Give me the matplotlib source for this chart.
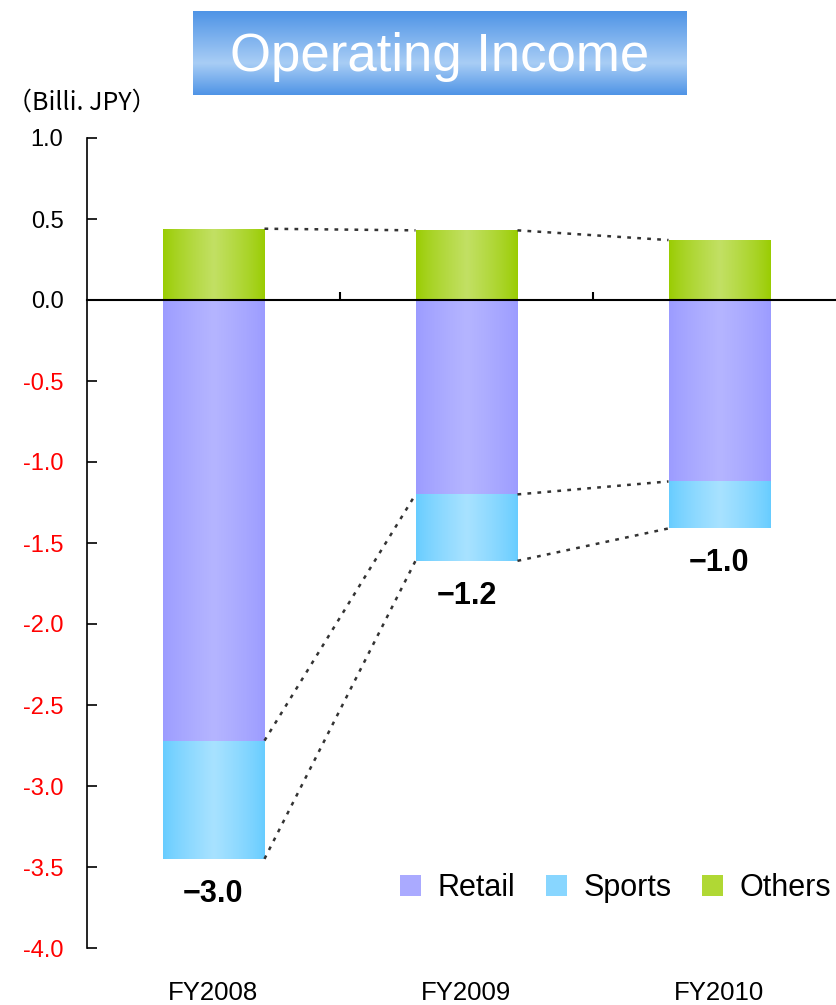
import numpy as np
import matplotlib
matplotlib.use("Agg")
import matplotlib.pyplot as plt
from matplotlib.colors import LinearSegmentedColormap
from matplotlib.transforms import blended_transform_factory

# data (Billi. JPY)
years = ["FY2008", "FY2009", "FY2010"]
retail = [-2.72, -1.20, -1.12]
sports = [-0.73, -0.41, -0.29]
others = [0.44, 0.43, 0.37]
series = ["Retail", "Sports", "Others"]
yticks = [1.0, 0.5, 0.0, -0.5, -1.0, -1.5, -2.0, -2.5, -3.0, -3.5, -4.0]

# gradient colours: edge, centre
grad = {
    "Retail": ("#9b9bff", "#b5b5ff"),
    "Sports": ("#66ccff", "#a8e2ff"),
    "Others": ("#99cc00", "#c2e064"),
}
solid = {"Retail": "#aaaaff", "Sports": "#88d6ff", "Others": "#b0d834"}

tf = "Liberation Sans"

fig = plt.figure(figsize=(8.37, 10.05), dpi=100)
ax = fig.add_axes([87 / 837, 57 / 1005, 759 / 837, 810 / 1005])
x = np.arange(len(years))
w = 0.403

retail_arr = np.array(retail)
sports_arr = np.array(sports)
others_arr = np.array(others)

b_ret = ax.bar(x, retail_arr, w, color=solid["Retail"], label="Retail", zorder=2)
b_sp = ax.bar(x, sports_arr, w, bottom=retail_arr, color=solid["Sports"], label="Sports", zorder=2)
b_ot = ax.bar(x, others_arr, w, color=solid["Others"], label="Others", zorder=2)

# horizontal gradient fill inside each bar
hx = np.linspace(0, 1, 256)
prof = np.clip(1 - np.abs(hx - 0.5) / 0.5, 0, 1) ** 0.8
for name, bars in (("Retail", b_ret), ("Sports", b_sp), ("Others", b_ot)):
    cmap = LinearSegmentedColormap.from_list(name, grad[name])
    for p in bars:
        x0, y0 = p.get_x(), p.get_y()
        im = ax.imshow(prof[None, :], cmap=cmap, vmin=0, vmax=1, aspect="auto",
                       extent=[x0, x0 + p.get_width(), y0, y0 + p.get_height()],
                       zorder=3, interpolation="bilinear")
        im.set_clip_path(p)

# dotted connectors
tops = [others_arr, retail_arr, retail_arr + sports_arr]
for lev in tops:
    for i in range(len(years) - 1):
        ax.plot([x[i] + w / 2, x[i + 1] - w / 2], [lev[i], lev[i + 1]],
                color="#333333", lw=1.8, ls=(0, (1.5, 2.5)), zorder=4)

# totals
totals = retail_arr + sports_arr + others_arr
for i in range(len(years)):
    ax.annotate("\u2212%.1f" % abs(totals[i]), (x[i], retail_arr[i] + sports_arr[i]),
                xytext=(0, -25), textcoords="offset points", ha="center", va="center",
                fontsize=22, fontweight="bold", family=tf)

ax.set_xlim(-0.5, 2.5)
ax.set_ylim(-4.0, 1.0)
ax.set_yticks(yticks)
ax.set_yticklabels(["%.1f" % v for v in yticks], family=tf, fontsize=17)
for lab, v in zip(ax.get_yticklabels(), yticks):
    lab.set_color("red" if v < 0 else "black")
ax.tick_params(axis="y", direction="in", length=7, width=1.2, pad=17)

ax.spines["top"].set_visible(False)
ax.spines["right"].set_visible(False)
ax.spines["left"].set_linewidth(1.2)
ax.spines["bottom"].set_position(("data", 0))
ax.spines["bottom"].set_linewidth(1.5)
ax.spines["bottom"].set_zorder(5)
ax.set_xticks(x)
ax.set_xticklabels([])
ax.tick_params(axis="x", which="major", length=0)
ax.set_xticks([0.5, 1.5], minor=True)
ax.tick_params(axis="x", which="minor", direction="in", length=6, width=1.5)

trans = blended_transform_factory(ax.transData, ax.transAxes)
for i, yr in enumerate(years):
    ax.text(x[i], -0.056, yr, transform=trans, ha="center", va="center",
            fontsize=18.5, family=tf)

ax.text(-0.106, 1.044, "\uff08Billi. JPY\uff09", transform=ax.transAxes, ha="left",
        va="center", fontsize=18, family=["Noto Sans CJK JP", "DejaVu Sans"])

leg = ax.legend(handles=[b_ret, b_sp, b_ot], loc="center left",
                bbox_to_anchor=(400 / 837, 1 - 888 / 1005), bbox_transform=fig.transFigure,
                ncol=3, frameon=False, prop={"family": tf, "size": 22},
                handlelength=0.68, handleheight=0.68, handletextpad=0.55, columnspacing=1.0,
                borderaxespad=0, borderpad=0)

# title banner
tax = fig.add_axes([193 / 837, 1 - 95 / 1005, 494 / 837, 84 / 1005])
gy = np.linspace(0, 1, 200)
vprof = np.clip(1 - np.abs(gy - 0.62) / np.where(gy < 0.62, 0.62, 0.38), 0, 1)
tcmap = LinearSegmentedColormap.from_list("t", ["#4f94e6", "#a8cdf5"])
tax.imshow(vprof[:, None], cmap=tcmap, aspect="auto", extent=[0, 1, 0, 1],
           interpolation="bilinear")
tax.set_axis_off()
tax.text(0.5, 0.45, "Operating Income", color="white", ha="center", va="center",
         fontsize=38, family=tf)

fig.savefig("out.png", dpi=100)
